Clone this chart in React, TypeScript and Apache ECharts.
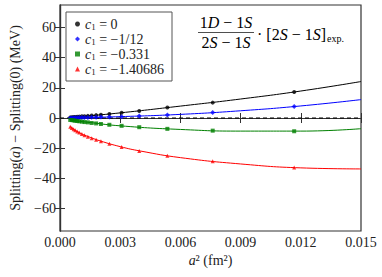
import React, { useEffect, useRef } from "react";
import * as echarts from "echarts";

const a2 = [0.00051, 0.00059, 0.00068, 0.00076, 0.00086, 0.00096, 0.00109, 0.00122, 0.00139, 0.00158, 0.0018, 0.00204, 0.00246, 0.00307, 0.00395, 0.00535, 0.00761, 0.01167];
const blackPts = [0.4, 0.5, 0.6, 0.7, 0.8, 0.9, 1.1, 1.2, 1.4, 1.6, 1.9, 2.1, 2.7, 3.5, 4.7, 6.9, 10.2, 17.3];
const bluePts = [0.0, 0.05, 0.1, 0.15, 0.2, 0.25, 0.3, 0.35, 0.4, 0.45, 0.5, 0.6, 0.7, 0.9, 1.3, 2.0, 3.6, 7.6];
const greenPts = [-1.3, -1.4, -1.6, -1.8, -2.0, -2.2, -2.4, -2.7, -2.9, -3.3, -3.6, -4.0, -4.5, -5.2, -6.1, -7.2, -8.4, -8.8];
const redPts = [-5.8, -6.6, -7.4, -8.1, -8.9, -9.7, -10.6, -11.4, -12.4, -13.4, -14.4, -15.5, -17.1, -19.2, -21.9, -25.1, -28.7, -32.9];

const fitBlack: [number, number][] = [[0.0005, 0.4], [0.0015, 1.5], [0.003, 3.4], [0.006, 7.9], [0.009, 12.6], [0.012, 17.9], [0.015, 24.2]];
const fitBlue: [number, number][] = [[0.0005, 0.0], [0.003, 0.9], [0.006, 2.4], [0.009, 4.8], [0.012, 8.0], [0.015, 12.2]];
const fitGreen: [number, number][] = [[0.0005, -1.3], [0.0015, -3.0], [0.003, -5.2], [0.006, -7.6], [0.009, -8.7], [0.012, -8.7], [0.015, -7.1]];
const fitRed: [number, number][] = [[0.0005, -5.6], [0.001, -10.0], [0.0015, -12.8], [0.002, -15.2], [0.003, -19.0], [0.004, -21.9], [0.006, -26.3], [0.009, -30.5], [0.012, -33.1], [0.015, -33.8]];

const yTicks = [-60, -40, -20, 0, 20, 40, 60];
const labels = ["0", "−1/12", "−0.331", "−1.40686"];
const colors = ["#000000", "#0000ff", "#008000", "#ff0000"];
const symbols = ["circle", "diamond", "rect", "triangle"];
const symSizes = [4, 5, 4, 4];

const FONT = "Liberation Serif";

export default function App() {
  const ref = useRef<HTMLDivElement>(null);
  useEffect(() => {
    const chart = echarts.init(ref.current!, null, { renderer: "svg" });
    const pts = [blackPts, bluePts, greenPts, redPts];
    const fits = [fitBlack, fitBlue, fitGreen, fitRed];
    const names = labels.map((l, i) => "s" + i);
    const series: any[] = [];
    series.push({
      type: "line",
      data: [[0, 0], [0.015, 0]],
      showSymbol: false,
      lineStyle: { color: "#000", width: 1, type: [4, 3] },
      z: 1,
    });
    fits.forEach((f, i) => {
      series.push({
        type: "line",
        data: f,
        smooth: true,
        showSymbol: false,
        lineStyle: { color: colors[i], width: 1 },
        z: 2,
      });
    });
    pts.forEach((p, i) => {
      series.push({
        type: "scatter",
        name: names[i],
        data: p.map((v, j) => [a2[j], v]),
        symbol: symbols[i],
        symbolSize: symSizes[i],
        itemStyle: { color: colors[i] },
        z: 3,
      });
    });
    const rich = {
      i: { fontFamily: FONT, fontStyle: "italic", fontSize: 14, color: "#222" },
      n: { fontFamily: FONT, fontSize: 14, color: "#222" },
    };
    const fr = {
      i: { fontFamily: FONT, fontStyle: "italic", fontSize: 16, color: "#222", lineHeight: 18 },
      n: { fontFamily: FONT, fontSize: 16, color: "#222", lineHeight: 18 },
      sub: { fontFamily: FONT, fontSize: 10, color: "#222", lineHeight: 18, verticalAlign: "bottom", padding: [6, 0, 0, 1] },
    };
    chart.setOption({
      animation: false,
      grid: { left: 58, right: 21, top: 5, bottom: 46, show: true, borderColor: "#333", borderWidth: 1.2 },
      xAxis: [
        {
          type: "value",
          min: 0,
          max: 0.015,
          interval: 0.003,
          axisLine: { lineStyle: { color: "#333", width: 1.2 } },
          axisTick: { inside: true, length: 5, lineStyle: { color: "#333" } },
          splitLine: { show: false },
          axisLabel: { formatter: (v: number) => v.toFixed(3), fontFamily: FONT, fontSize: 14, color: "#222", margin: 4 },
          name: "{i|a}{n|² (fm²)}",
          nameLocation: "middle",
          nameGap: 20,
          nameTextStyle: { rich },
        },
        {
          type: "value",
          position: "top",
          min: 0,
          max: 0.015,
          interval: 0.003,
          axisLine: { lineStyle: { color: "#333", width: 1.2 } },
          axisTick: { inside: true, length: 5, lineStyle: { color: "#333" } },
          axisLabel: { show: false },
          splitLine: { show: false },
        },
      ],
      yAxis: [
        {
          type: "value",
          min: -75,
          max: 75,
          axisLine: { lineStyle: { color: "#333", width: 1.2 } },
          axisTick: { inside: true, length: 5, customValues: yTicks, lineStyle: { color: "#333" } },
          splitLine: { show: false },
          axisLabel: {
            customValues: yTicks,
            formatter: (v: number) => (v < 0 ? "−" + Math.abs(v) : String(v)),
            fontFamily: FONT,
            fontSize: 14,
            color: "#222",
            margin: 4,
          },
          name: "{n|Splitting(}{i|a}{n|) − Splitting(0) (MeV)}",
          nameLocation: "middle",
          nameGap: 38,
          nameTextStyle: { rich },
        },
        {
          type: "value",
          position: "right",
          min: -75,
          max: 75,
          axisLine: { lineStyle: { color: "#333", width: 1.2 } },
          axisTick: { inside: true, length: 5, customValues: yTicks, lineStyle: { color: "#333" } },
          axisLabel: { show: false },
          splitLine: { show: false },
        },
      ],
      legend: {
        data: names,
        orient: "vertical",
        left: 66,
        top: 12,
        padding: [5, 8, 5, 9],
        itemGap: 1,
        itemWidth: 5,
        itemHeight: 5,
        backgroundColor: "#fff",
        borderColor: "#555",
        borderWidth: 1,
        formatter: (n: string) => "{i|c}{sub|1}{n| = " + labels[names.indexOf(n)] + "}",
        textStyle: {
          lineHeight: 14,
          rich: {
            i: { fontFamily: FONT, fontStyle: "italic", fontSize: 14, color: "#222", lineHeight: 14 },
            sub: { fontFamily: FONT, fontSize: 9, color: "#222", lineHeight: 14, verticalAlign: "bottom", padding: [5, 0, 0, 0] },
            n: { fontFamily: FONT, fontSize: 14, color: "#222", lineHeight: 14 },
          },
        },
      },
      graphic: [
        {
          type: "text",
          x: 226,
          y: 22,
          style: { text: "{n|1}{i|D}{n| − 1}{i|S}", rich: fr, align: "center", verticalAlign: "middle" },
        },
        {
          type: "line",
          shape: { x1: 198, y1: 32.5, x2: 254, y2: 32.5 },
          style: { stroke: "#222", lineWidth: 0.8 },
        },
        {
          type: "text",
          x: 226,
          y: 42,
          style: { text: "{n|2}{i|S}{n| − 1}{i|S}", rich: fr, align: "center", verticalAlign: "middle" },
        },
        {
          type: "text",
          x: 257,
          y: 34,
          style: { text: "{n|· [2}{i|S}{n| − 1}{i|S}{n|]}{sub|exp.}", rich: fr, align: "left", verticalAlign: "middle" },
        },
      ],
      series,
    });
    return () => chart.dispose();
  }, []);
  return <div ref={ref} style={{ width: 382, height: 277, position: "absolute", left: 0, top: 0 }} />;
}
